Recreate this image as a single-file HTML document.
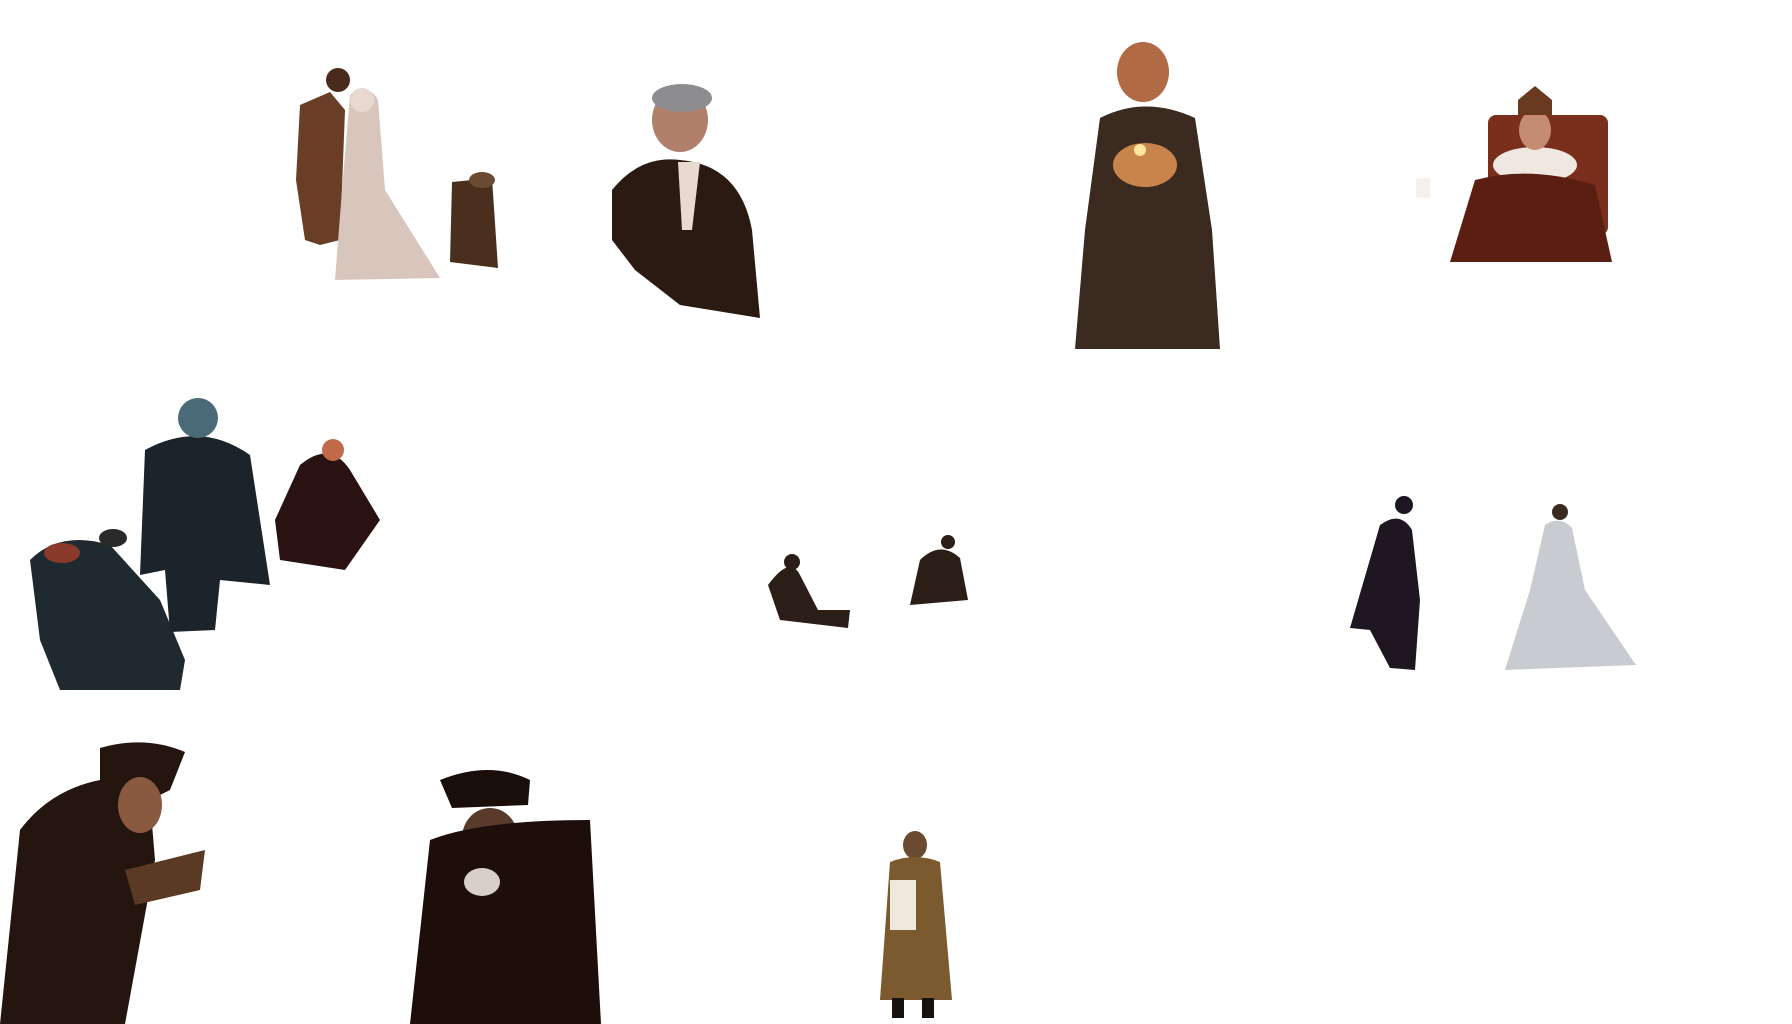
<!DOCTYPE html>
<html>
<head>
<meta charset="utf-8">
<style>
html,body{margin:0;padding:0;background:#fff;}
svg{display:block;}
</style>
</head>
<body>
<svg width="1792" height="1024" viewBox="0 0 1792 1024">
<rect width="1792" height="1024" fill="#ffffff"/>

<!-- 1. embracing couple + kneeling man -->
<g>
  <path d="M300,105 L330,92 L345,110 L340,240 L320,245 L305,240 L296,180 Z" fill="#6a3e26"/>
  <circle cx="338" cy="80" r="12" fill="#4a2a1a"/>
  <path d="M350,95 Q368,82 378,100 L385,190 L440,278 L335,280 L342,190 Z" fill="#d8c6bd"/>
  <circle cx="362" cy="100" r="12" fill="#e8d8d0"/>
  <path d="M452,182 L492,178 L498,268 L450,262 Z" fill="#4a2e1e"/>
  <ellipse cx="482" cy="180" rx="13" ry="8" fill="#6a4a30"/>
</g>

<!-- 2. smiling man in tuxedo -->
<g>
  <ellipse cx="680" cy="120" rx="28" ry="32" fill="#b0806a"/>
  <ellipse cx="682" cy="98" rx="30" ry="14" fill="#8d8d90"/>
  <path d="M612,190 Q640,155 680,160 Q740,165 752,230 L760,318 L680,305 L635,270 L612,240 Z" fill="#2b1a12"/>
  <path d="M678,162 L700,162 L692,230 L682,230 Z" fill="#e8dad0"/>
</g>

<!-- 3. woman with candle -->
<g>
  <ellipse cx="1143" cy="72" rx="26" ry="30" fill="#b06a44"/>
  <path d="M1100,118 Q1145,95 1195,118 L1212,230 L1220,349 L1075,349 L1085,230 Z" fill="#3a2a20"/>
  <ellipse cx="1145" cy="165" rx="32" ry="22" fill="#c8844a"/>
  <circle cx="1140" cy="150" r="6" fill="#ffe6a0"/>
</g>

<!-- 4. queen on throne -->
<g>
  <rect x="1488" y="115" width="120" height="120" rx="8" fill="#7a2e1c"/>
  <ellipse cx="1535" cy="165" rx="42" ry="18" fill="#f0e8e0"/>
  <ellipse cx="1535" cy="130" rx="16" ry="20" fill="#c48c70"/>
  <path d="M1518,100 L1535,86 L1552,100 L1552,115 L1518,115 Z" fill="#6a3a20"/>
  <path d="M1475,180 Q1530,165 1595,185 L1612,262 L1450,262 Z" fill="#5a1e12"/>
  <rect x="1416" y="178" width="14" height="20" fill="#f8f0e8"/>
</g>

<!-- 5. haunted group at left -->
<g>
  <path d="M30,560 Q60,530 110,545 L160,600 L185,660 L180,690 L60,690 L40,640 Z" fill="#1e2a30"/>
  <ellipse cx="62" cy="553" rx="18" ry="10" fill="#8a3a2a"/>
  <ellipse cx="113" cy="538" rx="14" ry="9" fill="#2a2a2a"/>
  <path d="M145,450 Q200,420 250,455 L270,585 L220,580 L215,630 L170,632 L165,570 L140,575 Z" fill="#1a242a"/>
  <ellipse cx="198" cy="418" rx="20" ry="20" fill="#4a6a78"/>
  <path d="M300,465 Q330,440 350,470 L380,520 L345,570 L280,560 L275,520 Z" fill="#2a1212"/>
  <circle cx="333" cy="450" r="11" fill="#c06a4a"/>
</g>

<!-- 6. two seated figures -->
<g>
  <path d="M768,585 Q790,555 800,575 L818,610 L850,610 L848,628 L780,620 Z" fill="#2a1e16"/>
  <circle cx="792" cy="562" r="8" fill="#2a1e16"/>
  <path d="M920,560 Q940,540 960,558 L968,600 L910,605 Z" fill="#2a1e16"/>
  <circle cx="948" cy="542" r="7" fill="#2a1e16"/>
</g>

<!-- 7. dancing couple -->
<g>
  <path d="M1380,525 Q1400,510 1412,530 L1420,600 L1415,670 L1390,668 L1370,630 L1350,628 Z" fill="#1e1620"/>
  <circle cx="1404" cy="505" r="9" fill="#1e1620"/>
  <path d="M1545,525 Q1560,515 1572,528 L1585,590 L1636,665 L1505,670 L1530,590 Z" fill="#c8ccd0"/>
  <circle cx="1560" cy="512" r="8" fill="#3a2a20"/>
</g>

<!-- 8. bearded man with book -->
<g>
  <path d="M100,748 Q145,735 185,752 L170,790 L150,800 L155,860 L125,1024 L0,1024 L20,830 Q50,790 100,780 Z" fill="#24160e"/>
  <ellipse cx="140" cy="805" rx="22" ry="28" fill="#8a5a40"/>
  <path d="M125,870 L205,850 L200,890 L135,905 Z" fill="#5a3a24"/>
</g>

<!-- 9. man with cap holding bird -->
<g>
  <path d="M440,780 Q490,760 530,780 L528,805 L452,808 Z" fill="#1a0e0a"/>
  <ellipse cx="490" cy="838" rx="28" ry="30" fill="#5a3a2a"/>
  <path d="M430,840 Q480,820 590,820 L601,1024 L410,1024 Z" fill="#1e0e0a"/>
  <ellipse cx="482" cy="882" rx="18" ry="14" fill="#d8d0c8"/>
</g>

<!-- 10. bearded man in fur coat -->
<g>
  <ellipse cx="915" cy="845" rx="12" ry="14" fill="#6a4a30"/>
  <path d="M890,862 Q915,852 940,862 L952,1000 L880,1000 Z" fill="#7a5a2e"/>
  <rect x="890" y="880" width="26" height="50" fill="#efe8dc"/>
  <rect x="892" y="998" width="12" height="20" fill="#1a120a"/>
  <rect x="922" y="998" width="12" height="20" fill="#1a120a"/>
</g>
</svg>
</body>
</html>
